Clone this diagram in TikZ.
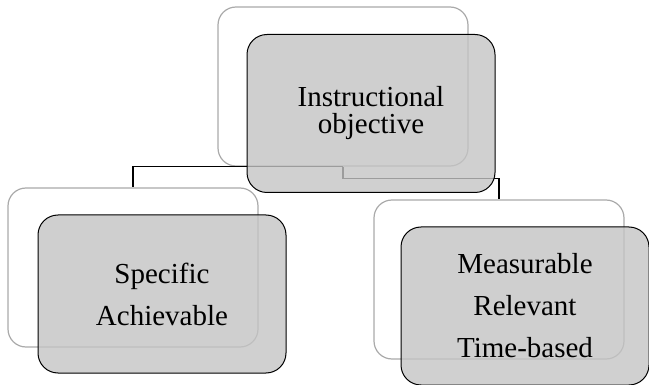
\documentclass[tikz,border=0pt]{standalone}
\usepackage{fontspec}
\setmainfont{Liberation Serif}
\definecolor{boxgray}{RGB}{196,196,196}
\definecolor{edgegray}{RGB}{170,170,170}
\newcommand{\backbox}[3]{\node[draw=edgegray,line width=1.2pt,fill=white,rounded corners=18pt,minimum width=250pt,minimum height=159pt,inner sep=0pt] (#1) at (#2,#3) {};}
\newcommand{\frontbox}[5]{\node[draw,line width=1pt,fill=boxgray,fill opacity=0.8,text opacity=1,rounded corners=20pt,minimum width=248pt,minimum height=158pt,inner sep=0pt,align=center,font=\fontsize{29}{#4}\selectfont] (#1) at (#2,#3) {#5};}
\newcommand{\branch}[2]{\draw[line width=1.6pt] (#1.south) -| (#2.north);}

\begin{document}
\begin{tikzpicture}[x=1pt,y=-1pt]
    \useasboundingbox (0,0) rectangle (649,385);
    \backbox{IOback}{343}{86.5}
    \backbox{SAback}{133}{267.5}    \backbox{MRTback}{499}{279.5}
    \branch{IOback}{SAback}
    \draw[line width=1.6pt] (IOback.south) -- ++(0,12) -| (MRTback.north);
    \frontbox{IO}{371}{113.5}{27}{Instructional\\objective}
    \frontbox{SA}{162}{294}{42}{Specific\\Achievable}
    \frontbox{MRT}{525}{306}{42}{Measurable\\Relevant\\Time-based}
\end{tikzpicture}
\end{document}
